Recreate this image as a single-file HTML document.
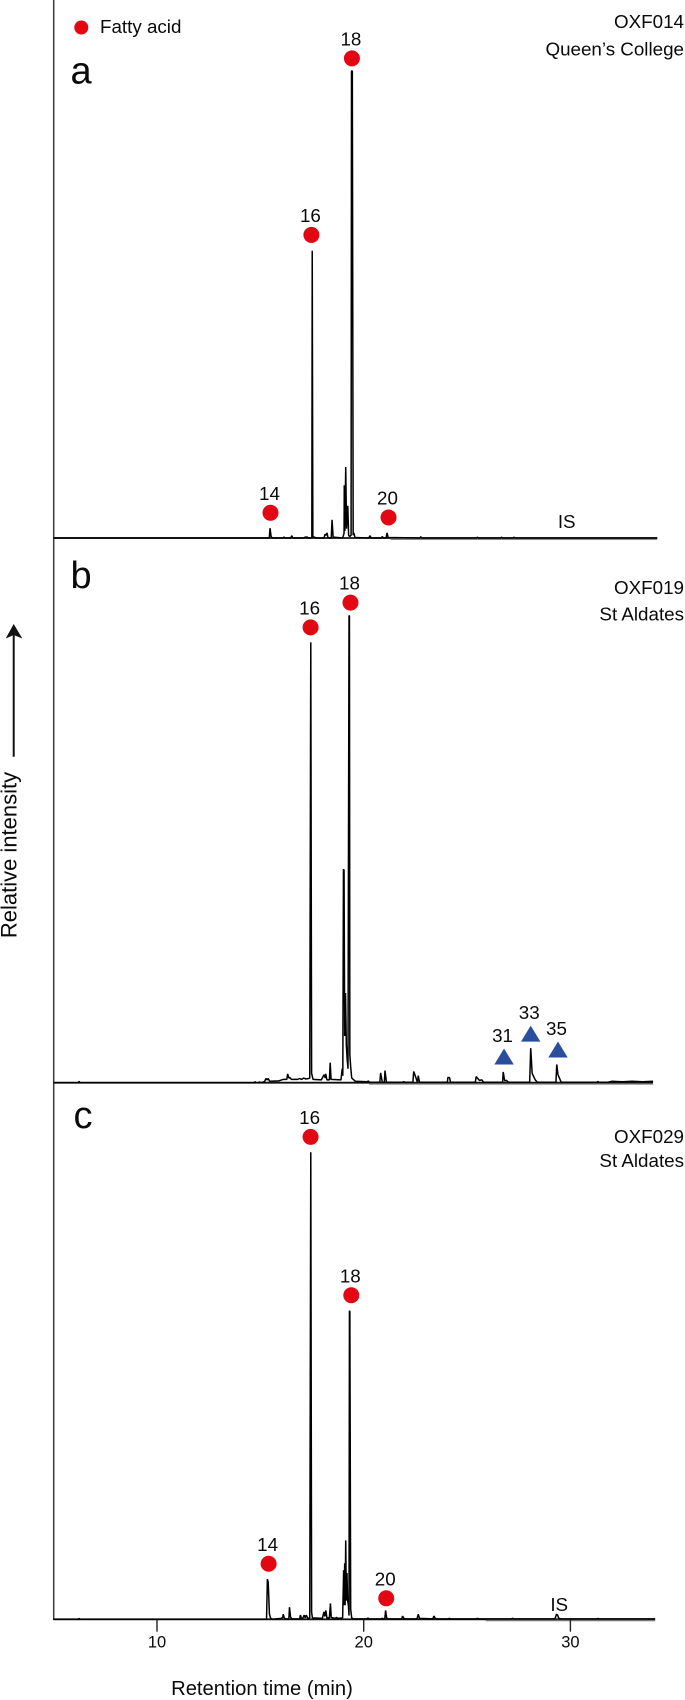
<!DOCTYPE html>
<html lang="en">
<head>
<meta charset="utf-8">
<title>Chromatograms OXF014, OXF019, OXF029</title>
<style>
html,body{margin:0;padding:0;background:#fff;width:685px;height:1700px;overflow:hidden}
svg{display:block}
text{font-family:"Liberation Sans",Arial,sans-serif;fill:#0a0a0a}
</style>
</head>
<body>
<svg id="chart" xmlns="http://www.w3.org/2000/svg" width="685" height="1700" viewBox="0 0 685 1700">
  <rect x="0" y="0" width="685" height="1700" fill="#fff"/>
  <line x1="53.7" y1="0" x2="53.7" y2="1620" stroke="#3a3a3a" stroke-width="1.5"/>

  <circle cx="81.3" cy="27.5" r="7" fill="#e30613"/>
  <text x="100" y="33.2" font-size="18.8">Fatty acid</text>

  <text x="70.5" y="83.5" font-size="38">a</text>
  <text x="70.5" y="588" font-size="38">b</text>
  <text x="73.5" y="1128" font-size="38">c</text>

  <text x="684" y="27.8" font-size="18.8" text-anchor="end">OXF014</text>
  <text x="684" y="55.4" font-size="18.8" text-anchor="end">Queen’s College</text>
  <text x="684" y="593.9" font-size="18.8" text-anchor="end">OXF019</text>
  <text x="684" y="620.4" font-size="18.8" text-anchor="end">St Aldates</text>
  <text x="684" y="1143.1" font-size="18.8" text-anchor="end">OXF029</text>
  <text x="684" y="1166.8" font-size="18.8" text-anchor="end">St Aldates</text>

  <text x="566.7" y="527.8" font-size="18.8" text-anchor="middle">IS</text>
  <text x="559.2" y="1611" font-size="18.8" text-anchor="middle">IS</text>

  <line x1="13.7" y1="756.7" x2="13.7" y2="634" stroke="#111" stroke-width="2"/>
  <polygon points="13.7,624 22.3,638.5 13.7,635 5.7,638.5" fill="#111"/>
  <text transform="translate(16.5,855) rotate(-90)" font-size="22" text-anchor="middle">Relative intensity</text>
  <text x="262" y="1695" font-size="20.2" text-anchor="middle">Retention time (min)</text>
</svg>
<script>
// Shared axis values
const tickValues = [10, 20, 30];
const tickLabels = ['10', '20', '30'];

// Panel a: trace
const rtA = [5,15.43,15.47,15.52,15.58,16.09,16.14,16.2,16.47,16.52,16.57,17.12,17.16,17.28,17.32,17.49,17.51,17.54,17.7,18.08,18.13,18.18,18.22,18.28,18.43,18.47,18.52,18.98,19.05,19.06,19.09,19.13,19.17,19.23,19.27,19.32,19.39,19.41,19.45,19.49,19.52,19.58,20.25,20.3,20.36,20.85,20.9,20.95,21.08,21.13,21.18,22.72,22.76,22.8,25.46,25.5,25.54,26.63,26.67,26.71,27.23,27.27,27.31,29.2,34.2];
const intensityA = [0,0,2.1,0.3,0,0,0.2,0,0,0.5,0,0,0.2,0.2,0,0,61.5,0.3,0,0,0.8,0.6,1.1,0,0,3.9,0.2,0,1,11.3,1.5,15.2,2,6.9,0.6,0.3,0.6,100,100,0.6,1.1,0.1,0,0.5,0,0,0.3,0,0,1.1,0.1,0,0.3,0,0,0.2,0,0,0.2,0,0,0.2,0,0,0];
// Panel a: labelled peaks
const labelsA = ['14','16','18','20'];
const labelRtA = [15.49,17.47,19.43,21.2];
const labelLevelA = [5.4,64.9,102.7,4.4];

// Panel b: trace
const rtB = [5,6.2,6.23,6.27,14.7,14.74,14.8,14.92,14.95,15,15.2,15.27,15.33,15.38,15.45,15.9,16.1,16.28,16.32,16.38,16.43,16.5,16.8,16.9,17,17.1,17.2,17.33,17.39,17.44,17.48,17.55,17.95,18.08,18.14,18.16,18.22,18.34,18.38,18.42,18.9,18.96,18.99,19.02,19.05,19.08,19.12,19.16,19.2,19.24,19.29,19.31,19.33,19.37,19.42,19.6,20.18,20.22,20.27,20.78,20.82,20.9,21,21.03,21.1,21.88,21.92,22,22.38,22.42,22.5,22.6,22.64,22.7,24.05,24.07,24.15,24.2,25.4,25.44,25.6,25.72,25.8,26.72,26.75,26.82,26.9,27,28.03,28.08,28.15,28.3,28.4,29.3,29.34,29.4,29.47,29.55,31.3,31.33,31.36,31.8,32,32.5,33,33.5,34];
const intensityB = [0,0,0.3,0,0,0.2,0,0,0.2,0,0.2,0.9,0.6,0.9,0.3,0.4,0.7,0.7,1.9,1,1.1,0.7,0.7,0.9,0.7,1,0.8,0.9,1,94.3,2,0.7,0.6,1.7,1,1.9,0.6,0.6,4.3,0.7,0.6,3,1.5,45.7,45.5,10,19.2,8,5,3,100,100,6,3.4,1,0.3,0.2,0.4,0.1,0.1,2.1,0.1,0.1,2.6,0.1,0.1,0.2,0.1,0.1,2.4,1.4,0.1,1.5,0.1,0.1,1.1,1.1,0.1,0.1,1.3,0.5,0.6,0.1,0.1,2.3,0.4,0.5,0.1,0.1,7.4,2,0.6,0.1,0.1,3.9,1.7,1,0.1,0.1,0.3,0.1,0.1,0.3,0.2,0.3,0.2,0.3,0.2];
// Panel b: labelled peaks
const labelsB = ['16','18'];
const labelRtB = [17.43,19.36];
const labelLevelB = [97.5,102.8];
const triLabelsB = ['31','33','35'];
const triRtB = [26.79,28.08,29.4];
const triLevelB = [5.6,10.5,7.1];

// Panel c: trace
const rtC = [5,6.2,6.23,6.27,15.3,15.34,15.38,15.44,15.5,15.6,16,16.08,16.11,16.15,16.2,16.38,16.41,16.46,16.52,16.9,16.94,16.98,17.05,17.12,17.17,17.22,17.3,17.39,17.44,17.48,17.52,18,18.08,18.12,18.17,18.22,18.34,18.39,18.43,18.62,18.68,18.75,18.98,19.03,19.05,19.08,19.1,19.13,19.16,19.19,19.22,19.26,19.29,19.31,19.33,19.37,19.42,19.5,20.17,20.2,20.25,20.85,20.9,20.95,21.02,21.06,21.11,21.18,21.84,21.88,21.94,22,22.58,22.64,22.7,23.34,23.4,23.46,23.55,24.1,24.14,24.2,25.45,25.5,25.56,27.15,27.2,27.25,29.25,29.33,29.38,29.44,29.55,31.3,31.34,31.38,34.1];
const intensityC = [0,0,0.2,0,0,8.6,8,1.1,0.2,0,0.2,0.4,1.1,0.4,0.1,0.1,2.6,0.5,0.1,0.1,0.9,0.3,0.2,0.9,0.3,0.9,0.2,0.3,100,1.5,0.3,0.2,1.6,0.6,1.9,0.3,0.3,3.4,0.4,0.2,0.4,0.2,0.3,10.5,3,12,3,16.9,4,9.9,4,3,0.8,66,66,2.1,0.3,0.1,0.1,0.3,0.1,0.1,0.2,0.1,0.1,1.9,0.3,0.1,0.1,0.7,0.2,0.1,0.1,1.1,0.2,0.1,0.7,0.2,0.1,0.1,0.2,0.1,0.1,0.2,0.1,0.1,0.2,0.1,0.1,1.1,0.9,0.2,0.1,0.1,0.2,0.1,0.1];
// Panel c: labelled peaks
const labelsC = ['14','16','18','20'];
const labelRtC = [15.4,17.43,19.4,21.09];
const labelLevelC = [11.9,103.3,69.4,4.5];

const SVG_NS = 'http://www.w3.org/2000/svg';
const chart = document.getElementById('chart');
const RED = '#e30613';
const BLUE = '#2a4e9c';

function xScale(t) { return 157 + (t - 10) * 20.67; }
function yScaleFor(base) { return function (v) { return base - v * 4.67; }; }

function makeEl(tag, attrs, parent) {
  const el = document.createElementNS(SVG_NS, tag);
  for (const k in attrs) el.setAttribute(k, attrs[k]);
  parent.appendChild(el);
  return el;
}

function drawTrace(name, rts, vals, base, grayFrom, endRt) {
  const g = makeEl('g', {}, chart);
  
  
  const y = yScaleFor(base);

  const base1 = makeEl('line', { x1: xScale(5), y1: base, x2: xScale(endRt), y2: base, stroke: '#111', 'stroke-width': 1.8 }, g);
  
  

  const base2 = makeEl('line', { x1: xScale(grayFrom), y1: base + 1.2, x2: xScale(endRt), y2: base + 1.2, stroke: '#777', 'stroke-width': 1.4 }, g);
  
  

  let d = '';
  for (let i = 0; i < rts.length; i++) {
    d += (i ? 'L' : 'M') + xScale(rts[i]).toFixed(2) + ' ' + y(vals[i]).toFixed(2);
  }
  const path = makeEl('path', { d: d, fill: 'none', stroke: '#000', 'stroke-width': 1.5, 'stroke-linejoin': 'bevel' }, g);
  
  
}

function drawDots(name, labels, rts, levels, base) {
  const y = yScaleFor(base);
  labels.forEach(function (lab, i) {
    const cx = xScale(rts[i]);
    const cy = y(levels[i]);
    const dot = makeEl('circle', { cx: cx, cy: cy, r: 8, fill: RED }, chart);
    
    
    const t = makeEl('text', { x: cx - 1, y: cy - 19.3 + 6.4, 'font-size': 18.8, 'text-anchor': 'middle' }, chart);
    
    
    t.textContent = lab;
  });
}

function drawTriangles(name, labels, rts, levels, base) {
  const y = yScaleFor(base);
  labels.forEach(function (lab, i) {
    const cx = xScale(rts[i]);
    const cy = y(levels[i]);
    const pts = cx + ',' + (cy - 8) + ' ' + (cx + 9.7) + ',' + (cy + 8) + ' ' + (cx - 9.7) + ',' + (cy + 8);
    const tri = makeEl('polygon', { points: pts, fill: BLUE }, chart);
    
    
    const t = makeEl('text', { x: cx - 1.5, y: cy - 21 + 6.4, 'font-size': 18.8, 'text-anchor': 'middle' }, chart);
    
    
    t.textContent = lab;
  });
}

function drawXAxis(base) {
  tickValues.forEach(function (v, i) {
    const x = xScale(v);
    const tick = makeEl('line', { x1: x, y1: base, x2: x, y2: base + 12.4, stroke: '#222', 'stroke-width': 1.4 }, chart);
    
    
    const t = makeEl('text', { x: x, y: base + 22.3 + 5.8, 'font-size': 16.5, 'text-anchor': 'middle' }, chart);
    
    
    t.textContent = tickLabels[i];
  });
}

drawTrace('panel-a', rtA, intensityA, 538, 21.3, 34.2);
drawTrace('panel-b', rtB, intensityB, 1082.7, 20.25, 34);
drawTrace('panel-c', rtC, intensityC, 1619.3, 25.9, 34.1);
drawDots('panel-a', labelsA, labelRtA, labelLevelA, 538);
drawDots('panel-b', labelsB, labelRtB, labelLevelB, 1082.7);
drawTriangles('panel-b', triLabelsB, triRtB, triLevelB, 1082.7);
drawDots('panel-c', labelsC, labelRtC, labelLevelC, 1619.3);
drawXAxis(1619.3);
</script>
</body>
</html>
